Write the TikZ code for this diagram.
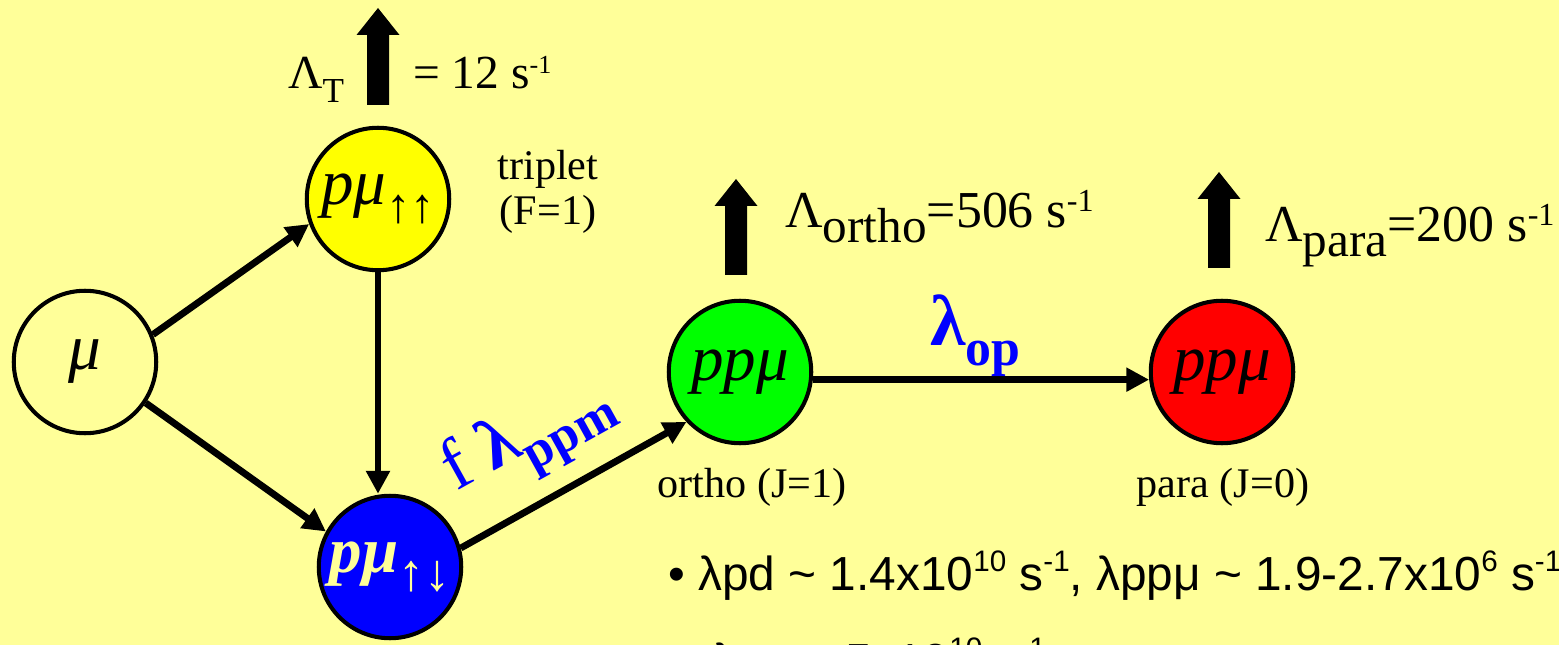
\documentclass[tikz,border=0pt]{standalone}
\usepackage{fontspec}
\setmainfont{Liberation Serif}
\newfontfamily\arialfont{Liberation Sans}
\usepackage{tikz}
\usetikzlibrary{arrows.meta, positioning}

\definecolor{paleyellow}{HTML}{FFFF99}
\definecolor{tripletyellow}{HTML}{FFFF00}
\definecolor{singletblue}{HTML}{0000FF}
\definecolor{orthogreen}{HTML}{00FF00}
\definecolor{parared}{HTML}{FF0000}
\definecolor{rateblue}{HTML}{0000FF}

% lowered / raised small text
\newcommand{\lowsub}[2][0.7]{\raisebox{-0.28em}{\scalebox{#1}{#2}}}
\newcommand{\highsup}[2][0.55]{\raisebox{0.32em}{\scalebox{#1}{#2}}}
\newcommand{\notesup}[1]{\raisebox{0.38em}{\scalebox{0.62}{#1}}}

% thick escape arrow: centre x, bottom y, tip y
\newcommand{\decayarrow}[3]{%
  \fill[black] (#1-11,#2) -- (#1+11,#2) -- (#1+11,#3+27) -- (#1+21.5,#3+27)
    -- (#1,#3) -- (#1-21.5,#3+27) -- (#1-11,#3+27) -- cycle;}

\begin{document}
\begin{tikzpicture}[
    x=0.02cm, y=-0.02cm,
    state/.style={circle, draw=black, line width=2.3pt, minimum size=2.85cm, inner sep=0pt,
        font=\fontsize{37}{40}\selectfont\itshape},
    flow/.style={line width=3.9pt, -{Triangle[length=13pt, width=13pt]}},
    caption/.style={font=\fontsize{24}{25.5}\selectfont, inner sep=0pt},
    rate/.style={font=\fontsize{27}{30}\selectfont, anchor=base west, inner sep=0pt},
    bigrate/.style={rate, font=\fontsize{29.5}{32}\selectfont},
    process/.style={font=\fontsize{41}{44}\selectfont\bfseries, text=rateblue, anchor=base west, inner sep=0pt},
    note/.style={font=\arialfont\fontsize{27.2}{30}\selectfont, anchor=base west, inner sep=0pt}
]
\useasboundingbox (0,0) rectangle (1559,645);
\fill[paleyellow] (0,0) rectangle (1559,645);
\clip (0,0) rectangle (1559,645);

% states
\node[state] (mu) at (85,362) {μ};
\node[state, fill=tripletyellow] (up) at (378,199) {pμ\lowsub[0.75]{\upshape ↑↑}};
\node[state, fill=singletblue, text=paleyellow, font=\fontsize{37}{40}\selectfont\bfseries\itshape] (dn) at (390,567) {pμ\lowsub[0.8]{\upshape\mdseries ↑↓}};
\node[state, fill=orthogreen] (orth) at (740,372) {ppμ};
\node[state, fill=parared] (para) at (1222,372) {ppμ};

% transitions
\draw[flow] (mu.22) -- (up.200);
\draw[flow] (mu.-34) -- (dn.151);
\draw[flow] (up.south) -- (up.south |- dn.north);
\draw[flow] (dn.15) -- (orth.223);
\draw[flow] (orth.-6) -- (para.186);

% decays
\decayarrow{378}{105}{8}
\decayarrow{736}{275}{179}
\decayarrow{1219}{268}{172}

% labels
\node[rate] (lamT) at (288,89) {Λ\lowsub[0.74]{T}};
\node[rate] (lamTval) at (413,89) {= 12 s\highsup{-1}};
\node[caption, align=center] (trip) at (548,192) {triplet\\(F=1)};
\node[bigrate] (lamortho) at (785,228) {Λ\lowsub[0.95]{ortho}=506 s\highsup[0.62]{-1}};
\node[bigrate] (lampara) at (1265,242) {Λ\lowsub[0.95]{para}=200 s\highsup[0.62]{-1}};
\node[caption, anchor=base] (orthocap) at (752,497) {ortho (J=1)};
\node[caption, anchor=base] (paracap) at (1223,497) {para (J=0)};
\node[process] (lamop) at (930,345) {λ\lowsub[0.72]{op}};
\node[process, rotate=29] (lamppm) at (456,492) {{\mdseries f} λ\lowsub[0.72]{ppm}};

% notes
\node[note] (note1) at (668,590) {• λpd \textasciitilde{} 1.4x10\notesup{10} s\notesup{-1}, λppμ \textasciitilde{} 1.9-2.7x10\notesup{6} s\notesup{-1}};
\node[note] (note2) at (683,677) {• λpμ \textasciitilde{} 5x10\notesup{10} s\notesup{-1}};

\end{tikzpicture}
\end{document}
